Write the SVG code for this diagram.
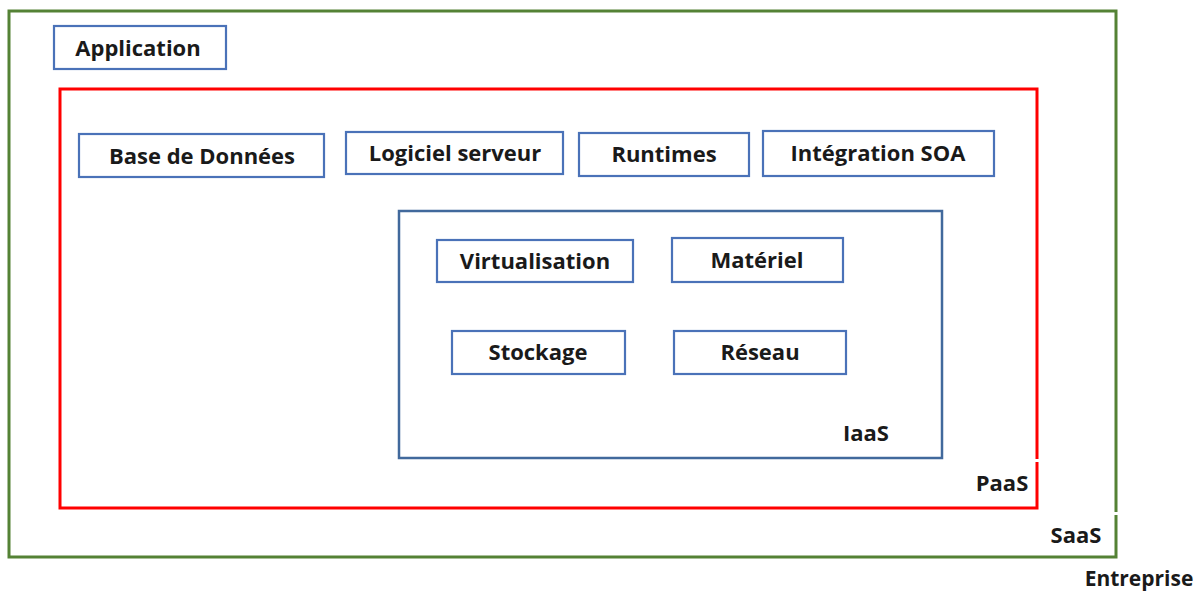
<svg xmlns="http://www.w3.org/2000/svg" width="1203" height="594" viewBox="0 0 1203 594">
<style>
text{font-family:"Open Sans","Liberation Sans",sans-serif;font-weight:700;font-size:22px;fill:#1a1a1a;text-anchor:middle}
.box{fill:#fff;stroke:#4a72b8;stroke-width:2.2}
.iaas{fill:none;stroke:#41699c;stroke-width:2.5}
.saas{fill:none;stroke:#548235;stroke-width:3}
.paas{fill:none;stroke:#ff0000;stroke-width:3}
</style>
<rect width="1203" height="594" fill="#fff"/>
<g id="saas">
<path class="saas" d="M1116 512 V11 H9 V557 H1116 V515"/>
<text x="1076" y="543">SaaS</text>
</g>
<g id="paas">
<path class="paas" d="M1037 459 V89 H60 V508 H1037 V462"/>
<text x="1002" y="491">PaaS</text>
</g>
<g id="iaas">
<rect class="iaas" x="399" y="211" width="543" height="247"/>
<text x="866" y="441">IaaS</text>
</g>
<g id="application"><rect class="box" x="54" y="26" width="172" height="43"/><text x="138" y="56">Application</text></g>
<g id="base-de-donnees"><rect class="box" x="79" y="134" width="245" height="43"/><text x="202" y="164">Base de Données</text></g>
<g id="logiciel-serveur"><rect class="box" x="346" y="132" width="217" height="42"/><text x="455" y="161">Logiciel serveur</text></g>
<g id="runtimes"><rect class="box" x="579" y="133" width="170" height="43"/><text x="664" y="162">Runtimes</text></g>
<g id="integration-soa"><rect class="box" x="763" y="131" width="231" height="45"/><text x="878" y="161">Intégration SOA</text></g>
<g id="virtualisation"><rect class="box" x="437" y="240" width="196" height="42"/><text x="535" y="269">Virtualisation</text></g>
<g id="materiel"><rect class="box" x="672" y="238" width="171" height="44"/><text x="757" y="268">Matériel</text></g>
<g id="stockage"><rect class="box" x="452" y="331" width="173" height="43"/><text x="538" y="360">Stockage</text></g>
<g id="reseau"><rect class="box" x="674" y="331" width="172" height="43"/><text x="760" y="360">Réseau</text></g>
<g id="entreprise"><text x="1139" y="586" style="font-size:21px">Entreprise</text></g>
<g id="connectors"></g>
</svg>
